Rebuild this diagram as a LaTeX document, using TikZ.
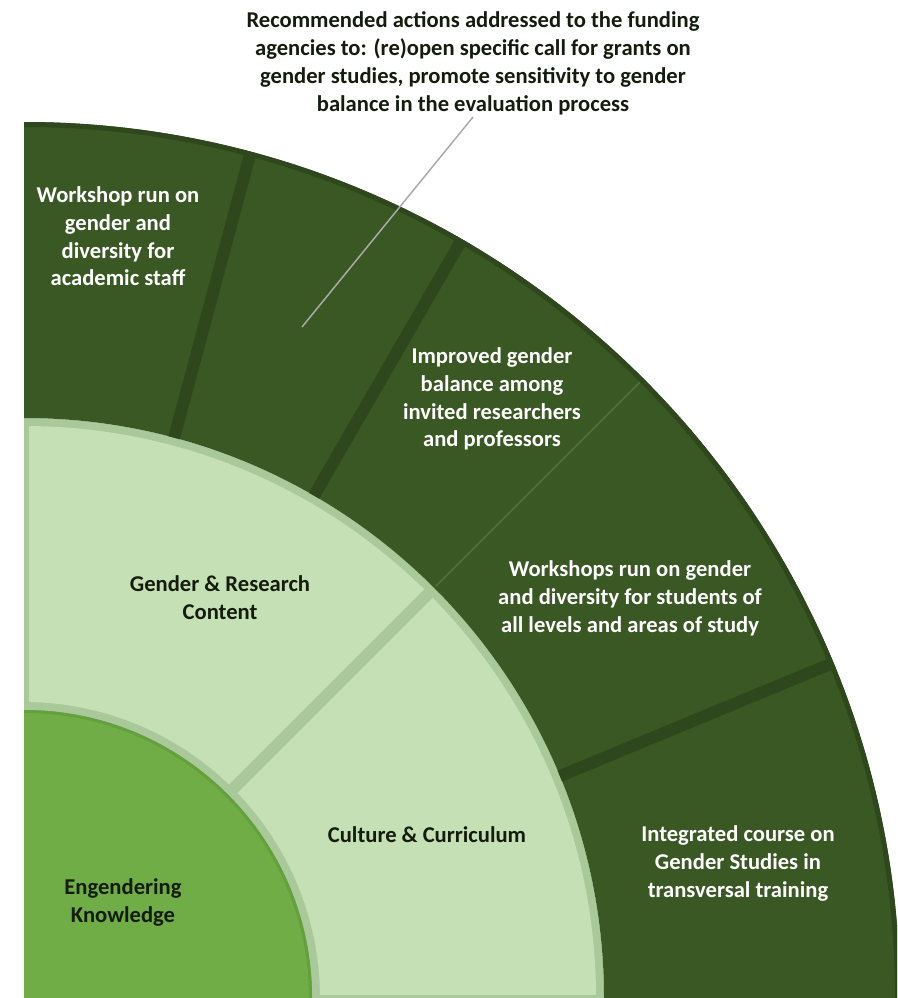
\documentclass[tikz,border=0pt]{standalone}
\usepackage{fontspec}
\setmainfont{Carlito}
\definecolor{darkring}{RGB}{58,88,36}
\definecolor{sepc}{RGB}{46,71,28}
\definecolor{thinc}{RGB}{82,112,62}
\definecolor{lightc}{RGB}{197,224,180}
\definecolor{gapc}{RGB}{170,201,154}
\definecolor{innerc}{RGB}{112,173,71}
\definecolor{innerrim}{RGB}{101,160,62}
\definecolor{leaderc}{RGB}{170,170,170}
\definecolor{textdark}{RGB}{20,28,14}
\tikzset{
  wlabel/.style={text=white, font=\bfseries\fontsize{22.6}{27.7}\selectfont, align=center, inner sep=0pt},
  blabel/.style={text=textdark, font=\bfseries\fontsize{22.6}{28.5}\selectfont, align=center, inner sep=0pt},
  toplab/.style={text=textdark, font=\bfseries\fontsize{22.6}{28}\selectfont, align=center, inner sep=2pt},
  leader/.style={draw=leaderc, line width=1.5pt},
  sepline/.style={draw=sepc, line width=12pt},
}
\begin{document}
\begin{tikzpicture}[x=1pt,y=1pt]
\useasboundingbox (0,0) rectangle (897,-998);
\begin{scope}
\clip (24,-998) rectangle (897,0);
\begin{scope}[shift={(24,-998)}]
% base under light ring (gap colour)
\fill[gapc] (0,0) -- (0:580) arc[start angle=0,end angle=90,radius=580] -- cycle;
% light ring
\fill[lightc] (0:296) -- (0:572) arc[start angle=0,end angle=90,radius=572] -- (90:296) arc[start angle=90,end angle=0,radius=296] -- cycle;
\draw[gapc, line width=12pt] (45:285) -- (45:578);
\draw[gapc, line width=10pt] (90:290) -- (90:578);
\draw[gapc, line width=6pt] (0:290) -- (0:578);
% inner circle
\fill[innerc] (0,0) -- (0:288) arc[start angle=0,end angle=90,radius=288] -- cycle;
\draw[innerrim, line width=3pt] (0:286.5) arc[start angle=0,end angle=90,radius=286.5];
% dark ring
\fill[darkring] (0:580) -- (0:876) arc[start angle=0,end angle=90,radius=876] -- (90:580) arc[start angle=90,end angle=0,radius=580] -- cycle;
\draw[sepline] (75:580) -- (75:876);
\draw[sepline] (60:580) -- (60:876);
\draw[sepline] (22.5:580) -- (22.5:876);
\draw[thinc, line width=1.5pt] (45:582) -- (45:876);
\draw[sepc, line width=5pt] (0:873.5) arc[start angle=0,end angle=90,radius=873.5];
\end{scope}
\end{scope}
% labels
\node[toplab, anchor=south] (toplabel) at (473,-117) {Recommended actions addressed to the funding\\agencies to: (re)open specific call for grants on\\gender studies, promote sensitivity to gender\\balance in the evaluation process};
\coordinate (lb) at (302,-327);
\draw[leader] (toplabel.south) -- (lb);
\node[wlabel] (staff) at (118,-236.5) {Workshop run on\\gender and\\diversity for\\academic staff};
\node[wlabel] (balance) at (492,-399) {Improved gender\\balance among\\invited researchers\\and professors};
\node[wlabel] (students) at (630,-598.5) {Workshops run on gender\\and diversity for students of\\all levels and areas of study};
\node[wlabel] (course) at (738,-863.5) {Integrated course on\\Gender Studies in\\transversal training};
\node[blabel] (research) at (220,-597.5) {Gender \& Research\\Content};
\node[blabel] (culture) at (427,-835) {Culture \& Curriculum};
\node[blabel] (knowledge) at (123,-902.5) {Engendering\\Knowledge};
\end{tikzpicture}
\end{document}
